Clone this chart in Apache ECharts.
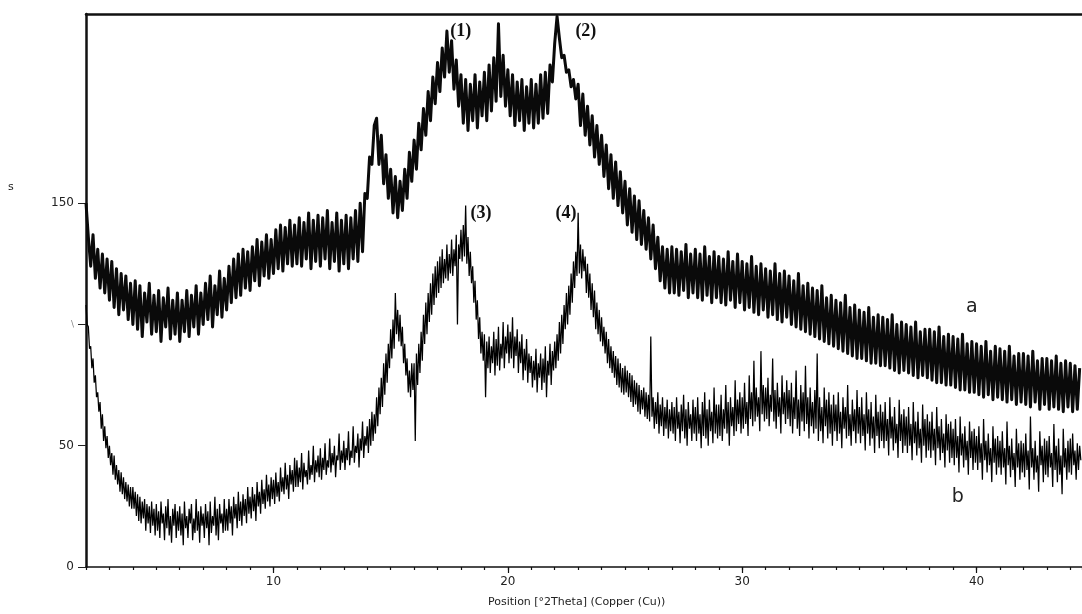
<!DOCTYPE html>
<html>
<head>
<meta charset="utf-8">
<style>
html,body{margin:0;padding:0;background:#fff;}
#chart{width:1082px;height:614px;}
</style>
<script src="https://cdn.jsdelivr.net/npm/echarts@6/dist/echarts.min.js"></script>
</head>
<body>
<div id="chart"></div>
<script>
// 2-theta sampling grids (degrees)
const THETA_START = 2.0;
const STEP_A = 0.1;
const STEP_B = 0.05;

// Pattern a (upper trace), counts, one value per 0.1 deg from 2.0
const countsA = [
  150,136,124,137,119,131,115,129,113,127,
  110,126,107,123,104,121,106,120,102,117,
  100,118,98,116,95,113,101,117,96,112,
  97,114,93,111,99,115,94,110,96,113,
  93,110,97,114,95,112,99,116,96,113,
  100,117,102,120,99,116,104,122,103,119,
  106,124,109,127,111,129,112,131,115,130,
  114,132,118,135,116,134,120,137,119,135,
  121,139,123,141,122,140,125,143,124,141,
  125,144,124,142,127,146,123,143,126,145,
  124,144,127,147,123,142,126,146,122,143,
  125,145,123,144,127,147,126,150,130,154,
  152,169,166,182,185,166,178,158,170,152,
  164,146,161,144,159,147,164,152,171,159,
  176,164,183,172,189,178,196,184,202,191,
  208,196,214,202,221,204,217,197,209,190,
  203,183,201,180,199,184,203,181,200,186,
  204,184,207,188,210,192,224,194,211,190,
  205,186,203,182,200,184,201,180,198,183,
  201,181,199,183,203,185,204,187,207,200,
  216,227,218,210,211,204,205,198,201,193,
  199,182,195,178,190,174,186,169,182,166,
  178,161,174,156,170,152,167,149,163,146,
  159,141,156,138,153,135,151,133,147,131,
  144,127,141,123,136,118,132,115,131,113,
  132,113,131,112,130,114,133,111,129,113,
  131,111,129,110,132,112,128,109,130,111,
  128,109,127,108,130,110,126,107,129,109,
  126,106,125,107,128,105,124,104,125,106,
  123,103,122,104,125,102,121,101,122,103,
  120,100,118,99,121,98,116,97,117,96,
  115,95,114,94,116,93,111,92,112,91,
  110,90,109,89,112,88,107,87,108,86,
  106,86,105,85,107,84,103,84,104,83,
  103,83,102,82,104,81,100,80,101,81,
  100,80,99,79,101,78,97,79,98,78,
  98,77,97,76,99,76,95,75,96,75,
  95,74,94,73,96,73,92,72,93,72,
  92,71,91,70,93,71,89,69,91,70,
  90,69,89,68,91,69,87,67,88,68,
  88,67,87,66,89,68,85,65,86,67,
  86,65,85,66,87,65,84,64,85,66,
  84,64,83,65,82
];

// Pattern b (lower trace), counts, one value per 0.05 deg from 2.0
const countsB = [
  108,100,99,90,91,82,86,76,79,70,72,64,68,57,63,52,58,49,54,45,
  50,42,47,38,46,36,42,34,40,31,39,30,37,28,35,27,34,25,33,24,
  33,24,31,21,30,19,29,18,27,20,28,15,26,18,25,14,27,17,24,13,
  26,15,23,12,27,18,22,11,25,16,28,13,21,10,24,17,26,12,23,15,
  25,13,22,9,27,16,21,12,24,18,26,11,20,14,28,15,23,10,25,17,
  22,12,26,16,23,9,27,14,21,17,29,13,24,11,26,18,22,14,28,15,
  24,15,28,18,25,13,29,20,26,16,31,19,27,17,30,21,28,18,33,22,
  29,20,33,23,30,19,35,25,31,22,36,26,32,24,38,27,34,25,37,28,
  36,26,39,29,35,27,41,31,37,30,43,32,38,28,42,34,40,31,45,33,
  44,33,41,35,47,32,43,37,40,34,48,36,42,38,50,35,44,39,46,37,
  49,36,45,40,51,38,44,41,53,39,47,42,50,37,46,44,55,40,48,43,
  52,40,49,44,56,42,48,45,58,43,50,47,55,41,53,48,60,45,54,50,
  58,47,61,50,64,52,63,55,70,58,74,63,78,66,84,71,88,76,92,82,
  98,86,102,90,113,96,106,93,104,91,99,84,92,79,86,72,81,70,84,73,
  84,52,88,75,92,80,97,85,104,92,109,96,113,101,117,104,121,108,124,111,
  126,113,128,115,131,117,127,119,133,118,129,121,135,120,131,124,137,100,133,127,
  139,126,141,128,149,125,136,120,130,117,124,109,118,102,110,94,103,88,97,85,
  96,70,93,82,95,80,91,84,97,79,94,83,99,81,92,86,101,82,95,88,
  100,84,97,86,103,82,95,87,98,80,93,84,96,77,90,81,94,76,88,80,
  87,74,85,77,90,72,84,78,88,73,86,76,91,70,85,79,92,75,89,81,
  93,82,96,85,101,88,104,92,108,98,113,100,116,104,121,109,126,115,130,120,
  146,121,133,119,131,122,128,113,125,111,121,106,117,103,114,98,109,96,106,93,
  103,91,99,88,97,84,94,82,91,80,89,78,87,75,86,74,84,72,82,71,
  83,72,81,70,80,68,79,66,77,67,76,64,75,63,73,65,74,62,72,61,
  71,60,95,62,70,57,68,59,72,55,67,58,70,54,66,57,69,53,65,56,
  68,55,66,52,70,57,64,51,67,56,71,53,65,50,68,57,63,52,69,55,
  66,52,70,55,63,49,68,54,72,53,65,50,69,56,64,51,74,55,67,53,
  67,54,71,52,65,57,75,55,68,50,70,58,66,54,77,56,69,59,72,55,
  70,57,76,59,68,54,79,61,72,58,85,60,74,62,70,56,89,63,75,60,
  74,61,78,58,71,64,86,60,73,57,76,62,70,55,79,63,72,59,77,61,
  73,58,76,55,70,61,81,57,69,54,75,60,72,56,83,59,70,53,74,58,
  68,55,73,57,88,52,70,56,66,51,74,58,69,53,72,55,67,50,71,56,
  67,52,72,55,64,49,70,57,66,53,75,54,63,50,69,56,65,51,73,55,
  66,51,70,54,63,48,72,55,65,50,68,53,62,47,71,54,64,49,67,52,
  64,49,68,52,61,46,70,53,62,48,66,51,59,45,69,52,63,47,65,50,
  62,47,66,50,59,44,68,51,60,46,64,49,57,43,67,50,61,45,63,48,
  60,45,64,48,57,42,66,49,58,44,61,47,55,41,63,48,59,43,60,45,
  57,42,61,45,54,39,62,46,55,41,58,44,52,38,60,45,56,40,57,43,
  54,40,58,43,51,36,61,44,52,39,55,42,49,35,58,43,53,38,54,41,
  52,38,56,41,49,34,60,42,50,37,53,40,47,33,57,41,51,36,52,39,
  51,37,55,40,48,32,62,41,49,36,52,39,46,31,56,42,50,35,53,38,
  52,37,54,41,47,33,59,40,50,35,53,38,46,30,57,41,49,36,52,39,
  53,38,55,42,48,36,51,40,50,44
];

// Axis ticks / labels
const xMajorTicks = [10, 20, 30, 40];
const yTicks = [0, 50, 100, 150];
const yTickLabels = {0: '0', 50: '50', 100: '\\', 150: '150'};

// Annotations [2theta, counts, text]
const peakLabelsA = [[17.99, 221, '(1)'], [23.33, 221, '(2)']];
const peakLabelsB = [[18.85, 146, '(3)'], [22.48, 146, '(4)']];
const curveNameA = [39.8, 107, 'a'];
const curveNameB = [39.2, 29, 'b'];

function toPairs(vals, step) {
  return vals.map((v, i) => [+(THETA_START + i * step).toFixed(2), v]);
}

const peakStyle = {
  show: true, position: 'inside',
  fontFamily: 'Liberation Serif', fontWeight: 'bold', fontSize: 18, color: '#111'
};
const nameStyle = {
  show: true, position: 'inside',
  fontFamily: 'DejaVu Sans', fontSize: 19, color: '#222'
};

function marks(peaks, curveName) {
  return {
    symbol: 'circle', symbolSize: 0, silent: true, animation: false,
    label: {show: true, formatter: p => p.name},
    data: peaks.map(d => ({coord: [d[0], d[1]], name: d[2], label: peakStyle}))
      .concat([{coord: [curveName[0], curveName[1]], name: curveName[2], label: nameStyle}])
  };
}

const chart = echarts.init(document.getElementById('chart'), null, {renderer: 'canvas'});
chart.setOption({
  animation: false,
  backgroundColor: '#fff',
  grid: {left: 86, right: 0, top: 14, bottom: 47, containLabel: false},
  xAxis: [
    {
      type: 'value', min: 2, max: 44.5,
      axisLine: {show: true, onZero: false, lineStyle: {color: '#111', width: 1.5}},
      axisTick: {show: true, customValues: xMajorTicks, length: 6, lineStyle: {color: '#111', width: 1.2}},
      axisLabel: {show: true, customValues: xMajorTicks, color: '#222', fontSize: 12,
                  fontFamily: 'DejaVu Sans', margin: 9},
      splitLine: {show: false}
    },
    {
      type: 'value', min: 2, max: 44.5, interval: 1, position: 'bottom',
      axisLine: {show: false},
      axisTick: {show: true, length: 3, lineStyle: {color: '#111', width: 1.2}},
      axisLabel: {show: false},
      splitLine: {show: false}
    },
    {
      type: 'value', min: 2, max: 44.5, position: 'top',
      axisLine: {show: true, onZero: false, lineStyle: {color: '#111', width: 2.5}},
      axisTick: {show: false}, axisLabel: {show: false}, splitLine: {show: false}
    }
  ],
  yAxis: {
    type: 'value', min: 0, max: 228,
    axisLine: {show: true, onZero: false, lineStyle: {color: '#111', width: 2.5}},
    axisTick: {show: true, customValues: yTicks, length: 8, lineStyle: {color: '#222', width: 1}},
    axisLabel: {
      show: true, customValues: yTicks, margin: 12,
      fontFamily: 'DejaVu Sans', fontSize: 12, color: '#222',
      formatter: v => v === 100 ? '{f|' + yTickLabels[v] + '}' : yTickLabels[v],
      rich: {f: {color: '#888', fontSize: 9, fontFamily: 'DejaVu Sans'}}
    },
    splitLine: {show: false}
  },
  series: [
    {
      name: 'a', type: 'line', xAxisIndex: 0, data: toPairs(countsA, STEP_A),
      showSymbol: false, symbol: 'none',
      lineStyle: {color: '#0a0a0a', width: 3, join: 'round'},
      markPoint: marks(peakLabelsA, curveNameA)
    },
    {
      name: 'b', type: 'line', xAxisIndex: 0, data: toPairs(countsB, STEP_B),
      showSymbol: false, symbol: 'none',
      lineStyle: {color: '#000', width: 1.25},
      markPoint: marks(peakLabelsB, curveNameB)
    }
  ],
  graphic: [
    {type: 'text', left: 488, top: 597,
     style: {text: 'Position [°2Theta] (Copper (Cu))', fontFamily: 'DejaVu Sans', fontSize: 11, fill: '#222'}},
    {type: 'text', left: 8, top: 182,
     style: {text: 's', fontFamily: 'DejaVu Sans', fontSize: 11, fill: '#222'}}
  ]
});
</script>
</body>
</html>
